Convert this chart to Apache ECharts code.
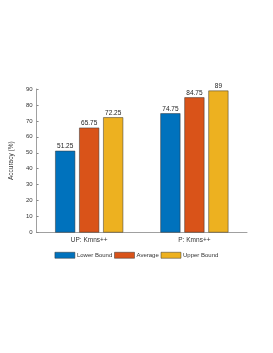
<!DOCTYPE html>
<html><head><meta charset="utf-8">
<script src="https://cdn.jsdelivr.net/npm/echarts@6/dist/echarts.min.js"></script>
<style>html,body{margin:0;padding:0;background:#fff;}#c{width:273px;height:353px;}</style>
</head><body><div id="c"></div>
<script>
const categories = ['UP: Kmns++', 'P: Kmns++'];
const lowerBound = [51.25, 74.75];
const average = [65.75, 84.75];
const upperBound = [72.25, 89];
const seriesNames = ['Lower Bound', 'Average', 'Upper Bound'];
const colors = ['#0072BD', '#D95319', '#EDB120'];

const chart = echarts.init(document.getElementById('c'), null, {renderer: 'canvas'});
const lbl = {show: true, position: 'top', distance: 1, fontSize: 6.5, color: '#222', fontFamily: 'Liberation Sans'};
function mk(name, data, color) {
  return {name, type: 'bar', data, barWidth: 20, barGap: '20%',
    itemStyle: {color, borderColor: '#333', borderWidth: 0.5}, label: lbl};
}
chart.setOption({
  animation: false,
  textStyle: {fontFamily: 'Liberation Sans'},
  grid: {left: 35, right: 26, top: 89, bottom: 120.5, containLabel: false},
  legend: {
    data: seriesNames, top: 247, left: 'center', itemWidth: 20, itemHeight: 6, itemGap: 2,
    textStyle: {fontSize: 6, color: '#333', padding: [0, 0, 0, -3]},
    icon: 'rect', itemStyle: {borderColor: '#333', borderWidth: 0.5}
  },
  xAxis: {
    type: 'category', data: categories,
    axisLine: {lineStyle: {color: '#888', width: 0.8}},
    axisTick: {show: false},
    axisLabel: {fontSize: 6.5, color: '#333', margin: 4}
  },
  yAxis: {
    type: 'value', min: 0, max: 90, interval: 10,
    name: 'Accuracy (%)', nameLocation: 'middle', nameGap: 11,
    nameTextStyle: {fontSize: 6.5, color: '#333'},
    axisLine: {show: true, lineStyle: {color: '#888', width: 0.8}},
    axisTick: {show: true, inside: true, length: 2, lineStyle: {color: '#888'}},
    axisLabel: {fontSize: 6, color: '#333', margin: 4},
    splitLine: {show: false}
  },
  series: [mk(seriesNames[0], lowerBound, colors[0]), mk(seriesNames[1], average, colors[1]), mk(seriesNames[2], upperBound, colors[2])]
});
</script></body></html>
